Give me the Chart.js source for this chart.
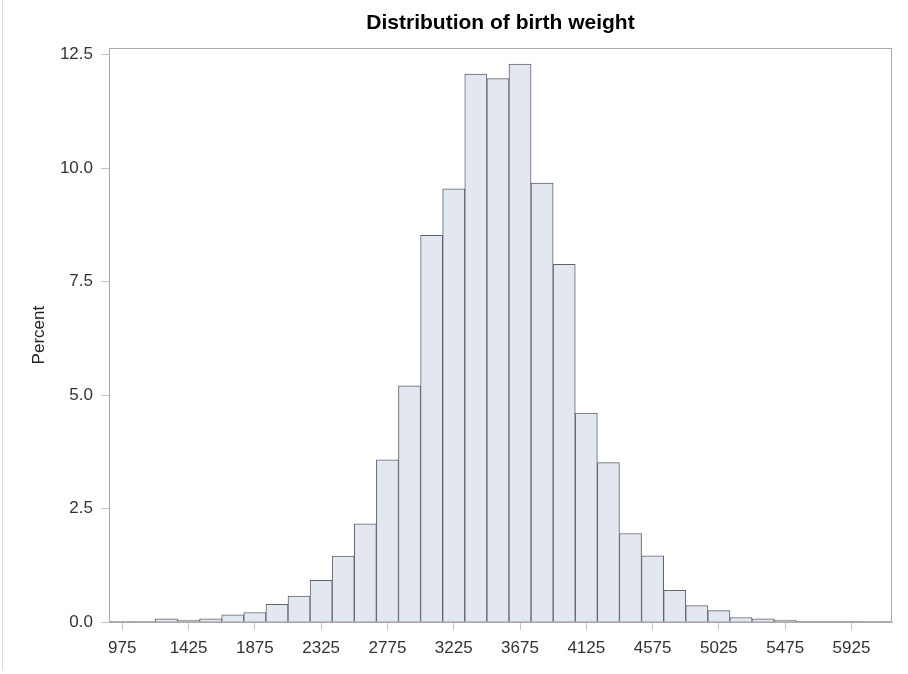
<!DOCTYPE html>
<html>
<head>
<meta charset="utf-8">
<script src="https://cdn.jsdelivr.net/npm/chart.js@4.4.0/dist/chart.umd.min.js"></script>
<style>
  html, body { margin: 0; padding: 0; background: #ffffff; }
  #wrap { position: relative; width: 908px; height: 674px; }
  #edge { position: absolute; left: 2px; top: 0; width: 1px; height: 670px; background: #d8d8d8; }
  canvas { position: absolute; left: 0; top: 0; }
</style>
</head>
<body>
<div id="wrap">
  <canvas id="c" width="908" height="674"></canvas>
  <div id="edge"></div>
</div>
<script>
// Bin midpoints (birth weight, grams), bin width 150
const binMidpoints = [975, 1125, 1275, 1425, 1575, 1725, 1875, 2025, 2175, 2325,
  2475, 2625, 2775, 2925, 3075, 3225, 3375, 3525, 3675, 3825,
  3975, 4125, 4275, 4425, 4575, 4725, 4875, 5025, 5175, 5325,
  5475, 5625, 5775, 5925, 6075];
// Percent of observations in each bin
const percents = [0.015, 0.015, 0.07, 0.04, 0.07, 0.16, 0.21, 0.39, 0.57, 0.92,
  1.45, 2.16, 3.57, 5.20, 8.52, 9.54, 12.07, 11.97, 12.29, 9.67,
  7.88, 4.60, 3.51, 1.95, 1.46, 0.70, 0.36, 0.25, 0.10, 0.07,
  0.04, 0.01, 0.01, 0.01, 0.015];
// Tick labels
const xTickValues = [975, 1425, 1875, 2325, 2775, 3225, 3675, 4125, 4575, 5025, 5475, 5925];
const yTickValues = [0, 2.5, 5.0, 7.5, 10.0, 12.5];

const FONT = "'Liberation Sans', Arial, sans-serif";
const FRAME = '#a9a9a9';

const framePlugin = {
  id: 'frame',
  afterLayout(chart) {
    // center the title over the plot area
    if (chart.titleBlock) {
      chart.titleBlock.left = chart.chartArea.left;
      chart.titleBlock.right = chart.chartArea.right;
    }
  },
  beforeDatasetsDraw(chart) {
    const a = chart.chartArea, ctx = chart.ctx;
    ctx.save();
    ctx.strokeStyle = FRAME;
    ctx.lineWidth = 1;
    ctx.strokeRect(Math.round(a.left) + 0.5, Math.round(a.top) + 0.5,
      Math.round(a.right - a.left) - 1, Math.round(a.bottom - a.top) - 1);
    ctx.restore();
  }
};

new Chart(document.getElementById('c'), {
  type: 'bar',
  data: {
    datasets: [{
      data: binMidpoints.map((x, i) => ({ x: x, y: percents[i] })),
      backgroundColor: '#e3e7f0',
      borderColor: '#60636c',
      borderWidth: 1,
      borderSkipped: 'start',
      barPercentage: 1.0,
      categoryPercentage: 1.0
    }]
  },
  plugins: [framePlugin],
  options: {
    responsive: false,
    animation: false,
    devicePixelRatio: 1,
    layout: { padding: { left: 0, right: 16, top: 0, bottom: 0 } },
    plugins: {
      legend: { display: false },
      tooltip: { enabled: false },
      title: {
        display: true,
        text: 'Distribution of birth weight',
        color: '#000000',
        font: { family: FONT, size: 21, weight: 'bold' },
        padding: { top: 11, bottom: 12 }
      }
    },
    scales: {
      x: {
        type: 'linear',
        min: 885,
        max: 6200,
        offset: false,
        afterBuildTicks: (scale) => { scale.ticks = xTickValues.map(v => ({ value: v })); },
        afterFit: (scale) => { scale.height = 52; },
        ticks: {
          color: '#333333',
          font: { family: FONT, size: 17 },
          padding: 8,
          autoSkip: false,
          maxRotation: 0,
          callback: (v) => String(v)
        },
        grid: {
          display: true,
          drawOnChartArea: false,
          drawTicks: true,
          tickLength: 8,
          tickColor: '#c4c4c4',
          offset: false
        },
        border: { display: true, color: FRAME }
      },
      y: {
        type: 'linear',
        min: 0,
        max: 12.64,
        afterBuildTicks: (scale) => { scale.ticks = yTickValues.map(v => ({ value: v })); },
        afterFit: (scale) => { scale.width = 109; },
        ticks: {
          color: '#333333',
          font: { family: FONT, size: 17 },
          padding: 8,
          callback: (v) => Number(v).toFixed(1)
        },
        grid: {
          display: true,
          drawOnChartArea: false,
          drawTicks: true,
          tickLength: 8,
          tickColor: '#c4c4c4'
        },
        border: { display: true, color: FRAME },
        title: {
          display: true,
          text: 'Percent',
          color: '#222222',
          font: { family: FONT, size: 17 },
          padding: { top: 29, bottom: 0 }
        }
      }
    }
  }
});
</script>
</body>
</html>
